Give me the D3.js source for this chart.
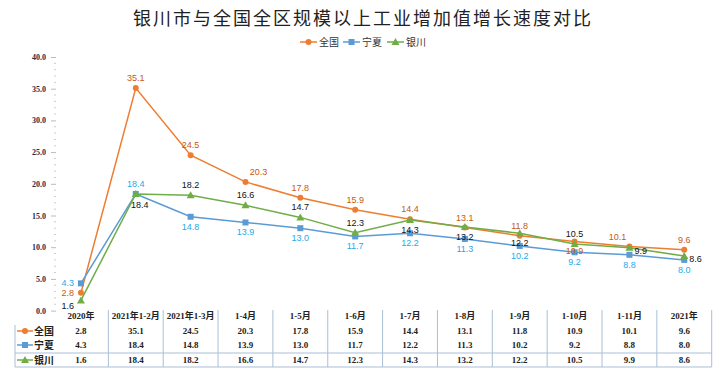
<!DOCTYPE html>
<html>
<head>
<meta charset="utf-8">
<script src="https://cdn.jsdelivr.net/npm/d3@7/dist/d3.min.js"></script>
<style>
  body { margin: 0; background: #fff; }
  svg { display: block; }
</style>
</head>
<body>
<svg id="svg"></svg>
<script>
var width = 725, height = 382;

var title = "银川市与全国全区规模以上工业增加值增长速度对比";
var categories = ["2020年", "2021年1-2月", "2021年1-3月", "1-4月", "1-5月", "1-6月", "1-7月", "1-8月", "1-9月", "1-10月", "1-11月", "2021年"];
var seriesNames = ["全国", "宁夏", "银川"];
var quanguo = [2.8, 35.1, 24.5, 20.3, 17.8, 15.9, 14.4, 13.1, 11.8, 10.9, 10.1, 9.6];
var ningxia = [4.3, 18.4, 14.8, 13.9, 13.0, 11.7, 12.2, 11.3, 10.2, 9.2, 8.8, 8.0];
var yinchuan = [1.6, 18.4, 18.2, 16.6, 14.7, 12.3, 14.3, 13.2, 12.2, 10.5, 9.9, 8.6];
var yTicks = [0, 5, 10, 15, 20, 25, 30, 35, 40];

// label placement per point (l = left, t = top, b = bottom, r = right ...)
var labelPos = [
  ["l", "t", "t", "tr", "t", "t", "t", "t", "t", "b", "tl", "t"],
  ["l", "t", "b", "b", "b", "b", "b", "b", "b", "b", "b", "b"],
  ["bl", "br", "t", "t", "t", "t", "b", "b", "b", "t", "r", "r"]
];

var series = [
  {name: seriesNames[0], values: quanguo, color: "#ED7D31", label: "#C55A11", marker: "circle"},
  {name: seriesNames[1], values: ningxia, color: "#5B9BD5", label: "#1FA9E8", marker: "square"},
  {name: seriesNames[2], values: yinchuan, color: "#70AD47", label: "#111", marker: "triangle"}
];

var svg = d3.select("#svg").attr("width", width).attr("height", height);

var x = d3.scaleBand().domain(categories).range([53.5, 711.7]);
var y = d3.scaleLinear().domain([0, 40]).range([310.6, 57]);
var cx = d => x(d) + x.bandwidth() / 2;

// title
svg.append("text")
  .attr("x", 363).attr("y", 25)
  .attr("text-anchor", "middle")
  .style("font-family", "'Noto Sans CJK SC', sans-serif")
  .style("font-size", "18px")
  .style("letter-spacing", "2px")
  .style("fill", "#222")
  .text(title);

function drawMarker(g, type, px, py, color) {
  if (type === "circle") {
    g.append("circle").attr("cx", px).attr("cy", py).attr("r", 3).attr("fill", color);
  } else if (type === "square") {
    g.append("rect").attr("x", px - 3).attr("y", py - 3).attr("width", 6).attr("height", 6).attr("fill", color);
  } else {
    g.append("path").attr("d", `M${px},${py - 4}L${px + 4},${py + 3}L${px - 4},${py + 3}Z`).attr("fill", color);
  }
}

// legend
var legend = svg.append("g").attr("class", "legend");
var legX = [300, 343, 387];
series.forEach(function(s, i) {
  var lg = legend.append("g");
  lg.append("line").attr("x1", legX[i]).attr("x2", legX[i] + 17).attr("y1", 42).attr("y2", 42)
    .attr("stroke", s.color).attr("stroke-width", 1.5);
  drawMarker(lg, s.marker, legX[i] + 8.5, 42, s.color);
  lg.append("text").attr("x", legX[i] + 19).attr("y", 45.5)
    .style("font-family", "'Noto Sans CJK SC', sans-serif").style("font-size", "10px").style("fill", "#333")
    .text(s.name);
});

// y axis
var yAxis = d3.axisLeft(y).tickValues(yTicks).tickFormat(d3.format(".1f")).tickSize(5).tickPadding(5);
var yG = svg.append("g").attr("transform", "translate(56,0)").call(yAxis);
yG.select(".domain").remove();
yG.selectAll(".tick line").attr("stroke", "#bbb");
yG.selectAll(".tick text")
  .style("font-family", "'Liberation Serif', serif").style("font-weight", 700)
  .style("font-size", "8px").style("fill", "#1F2D4D");
svg.append("g").selectAll("line").data(d3.range(0, 41, 1).filter(v => v % 5 !== 0))
  .enter().append("line")
  .attr("x1", 54).attr("x2", 56).attr("y1", d => y(d)).attr("y2", d => y(d))
  .attr("stroke", "#ccc");

// lines + markers
var line = d3.line().x((d, i) => cx(categories[i])).y(d => y(d));
series.forEach(function(s) {
  var g = svg.append("g");
  g.append("path").attr("d", line(s.values)).attr("fill", "none")
    .attr("stroke", s.color).attr("stroke-width", 1.5);
  s.values.forEach(function(v, i) { drawMarker(g, s.marker, cx(categories[i]), y(v), s.color); });
});

// data labels
series.forEach(function(s, si) {
  svg.append("g").selectAll("text").data(s.values).enter().append("text")
    .attr("x", function(d, i) {
      var p = labelPos[si][i], px = cx(categories[i]);
      if (p === "l" || p === "bl") return px - 7;
      if (p === "r") return px + 5;
      if (p === "tr") return px + 13;
      if (p === "tl") return px - 12;
      if (p === "br") return px + 4;
      return px;
    })
    .attr("y", function(d, i) {
      var p = labelPos[si][i], py = y(d);
      if (p === "l") return py + 3;
      if (p === "bl") return py + 9;
      if (p === "r") return py + 6;
      if (p === "tr" || p === "tl" || p === "t") return py - 7;
      if (p === "br") return py + 14;
      return py + 13;
    })
    .attr("text-anchor", function(d, i) {
      var p = labelPos[si][i];
      if (p === "l" || p === "bl") return "end";
      if (p === "r") return "start";
      return "middle";
    })
    .style("font-family", "'Liberation Sans', sans-serif")
    .style("font-size", "9px")
    .style("fill", s.label)
    .text(d => d.toFixed(1));
});

// data table
var table = svg.append("g").attr("class", "table");
var tableLine = "#A9BFD6";
var rowY = [316, 331, 345, 360];
x.domain().forEach(function(c, i) {
  if (i > 0) {
    table.append("line").attr("x1", x(c)).attr("x2", x(c)).attr("y1", 310).attr("y2", 367)
      .attr("stroke", tableLine);
  }
});
table.append("line").attr("x1", 711.7).attr("x2", 711.7).attr("y1", 310).attr("y2", 367).attr("stroke", tableLine);
table.append("line").attr("x1", 15).attr("x2", 15).attr("y1", 325).attr("y2", 367).attr("stroke", tableLine);
table.append("line").attr("x1", 15).attr("x2", 711.7).attr("y1", 353).attr("y2", 353).attr("stroke", tableLine);
table.append("line").attr("x1", 15).attr("x2", 711.7).attr("y1", 367).attr("y2", 367).attr("stroke", tableLine);

table.selectAll(".cat").data(categories).enter().append("text")
  .attr("class", "cat")
  .attr("x", d => cx(d)).attr("y", rowY[0] + 3)
  .attr("text-anchor", "middle")
  .style("font-family", "'Liberation Serif', 'Noto Sans CJK SC', serif").style("font-weight", 700)
  .style("font-size", "9px").style("fill", "#222")
  .text(d => d);

series.forEach(function(s, si) {
  var ry = rowY[si + 1];
  var kg = table.append("g");
  kg.append("line").attr("x1", 17).attr("x2", 33).attr("y1", ry).attr("y2", ry)
    .attr("stroke", s.color).attr("stroke-width", 1.5);
  drawMarker(kg, s.marker, 25, ry, s.color);
  kg.append("text").attr("x", 34).attr("y", ry + 4)
    .style("font-family", "'Noto Sans CJK SC', sans-serif").style("font-weight", 700)
    .style("font-size", "10px").style("fill", "#222").text(s.name);
  table.append("g").selectAll("text").data(s.values).enter().append("text")
    .attr("x", (d, i) => cx(categories[i])).attr("y", ry + 3)
    .attr("text-anchor", "middle")
    .style("font-family", "'Liberation Serif', serif").style("font-weight", 700)
    .style("font-size", "9px").style("fill", "#222")
    .text(d => d.toFixed(1));
});
</script>
</body>
</html>
